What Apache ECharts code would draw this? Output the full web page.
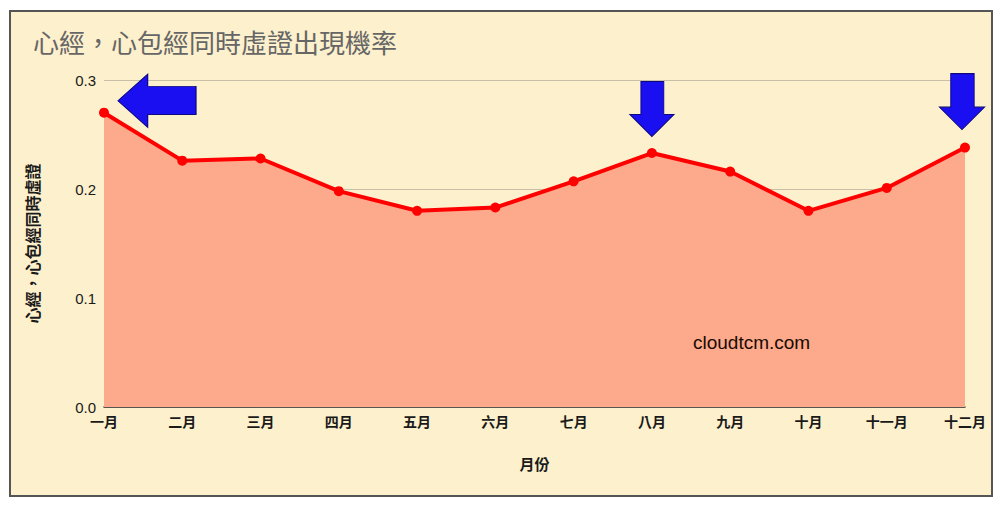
<!DOCTYPE html>
<html>
<head>
<meta charset="utf-8">
<script src="https://cdn.jsdelivr.net/npm/echarts@6/dist/echarts.min.js"></script>
<style>
  html, body { margin: 0; padding: 0; background: #fff; }
  #frame { position: absolute; left: 9px; top: 10px; width: 980px; height: 483px;
           border: 2px solid #555; background: #fdf0cc; }
  #chart { position: absolute; left: 0; top: 0; width: 1000px; height: 508px; }
</style>
</head>
<body>
<div id="frame"></div>
<div id="chart"></div>
<script>
// 心經，心包經同時虛證出現機率
var months = ['一月', '二月', '三月', '四月', '五月', '六月', '七月', '八月', '九月', '十月', '十一月', '十二月'];
var rates = [0.270, 0.226, 0.228, 0.198, 0.180, 0.183, 0.207, 0.233, 0.216, 0.180, 0.201, 0.238];
var arrowMonths = ['一月', '八月', '十二月'];

(function () {
  var font = '"Liberation Sans", "Noto Sans CJK TC", sans-serif';
  var ink = '#1a1a1a';
  var leftArrow = 'path://M0,50 L38,0 L38,23 L100,23 L100,76 L38,76 L38,100 Z';
  var downArrow = 'path://M25,0 L77,0 L77,60 L100,60 L50,100 L0,60 L25,60 Z';

  var marks = arrowMonths.map(function (m) {
    var i = months.indexOf(m);
    if (i === 0) {
      return { coord: [i, rates[i]], symbol: leftArrow, symbolSize: [78, 53], symbolOffset: [53, -12] };
    }
    if (i === months.length - 1) {
      return { coord: [i, rates[i]], symbol: downArrow, symbolSize: [45, 56], symbolOffset: [-3, -46] };
    }
    return { coord: [i, rates[i]], symbol: downArrow, symbolSize: [44, 55], symbolOffset: [0, -44] };
  });

  var chart = echarts.init(document.getElementById('chart'), null, { renderer: 'svg' });
  chart.setOption({
    animation: false,
    backgroundColor: 'transparent',
    textStyle: { fontFamily: font },
    title: {
      text: '心經，心包經同時虛證出現機率',
      left: 28, top: 26,
      textStyle: { fontSize: 26, fontWeight: 'normal', color: '#666', fontFamily: font }
    },
    grid: { left: 104, right: 35, top: 80, bottom: 101 },
    xAxis: {
      type: 'category',
      data: months,
      boundaryGap: false,
      name: '月份',
      nameLocation: 'middle',
      nameGap: 50,
      nameTextStyle: { color: ink, fontSize: 15, fontWeight: 'bold' },
      axisLine: { lineStyle: { color: '#333', width: 1.5 } },
      axisTick: { show: false },
      axisLabel: { color: ink, fontSize: 14, margin: 8, fontWeight: 'bold' }
    },
    yAxis: {
      type: 'value',
      min: 0, max: 0.3, interval: 0.1,
      name: '心經，心包經同時虛證',
      nameLocation: 'middle',
      nameGap: 63,
      nameTextStyle: { color: ink, fontSize: 16, fontWeight: 'bold' },
      axisLine: { show: false },
      axisTick: { show: false },
      axisLabel: { color: ink, fontSize: 15, margin: 8, formatter: function (v) { return v.toFixed(1); } },
      splitLine: { lineStyle: { color: '#c9bfa6', width: 1 } }
    },
    series: [{
      type: 'line',
      data: rates,
      symbol: 'circle',
      symbolSize: 10,
      itemStyle: { color: '#ff0000' },
      lineStyle: { color: '#ff0000', width: 4 },
      areaStyle: { color: '#fca98c', opacity: 1 },
      z: 3,
      markPoint: {
        silent: true,
        label: { show: false },
        itemStyle: { color: '#1a0ff0', borderColor: '#0b0880', borderWidth: 1 },
        data: marks
      }
    }],
    graphic: [{
      type: 'text',
      left: 693, top: 333,
      z: 10,
      style: { text: 'cloudtcm.com', fill: '#1a0a00', font: '19px ' + font }
    }]
  });
  window.addEventListener('resize', function () { chart.resize(); });
})();
</script>
</body>
</html>
